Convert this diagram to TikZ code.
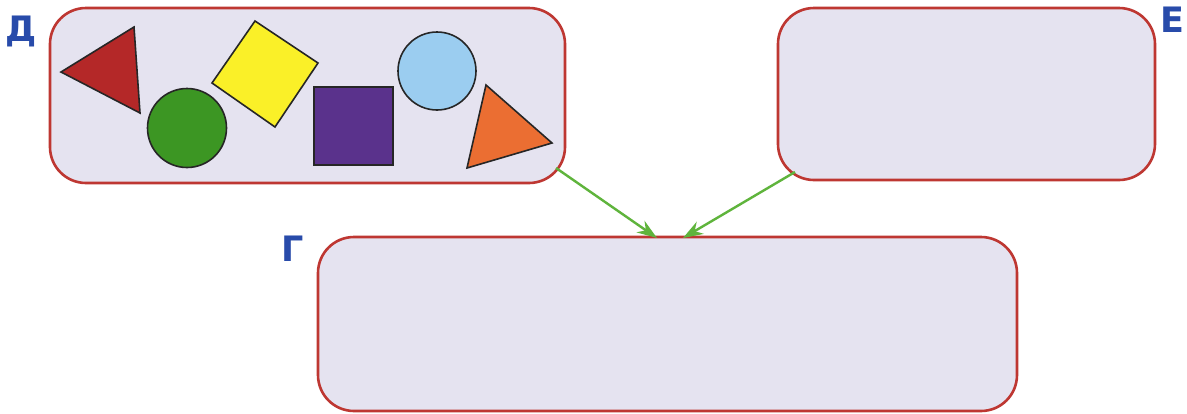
\documentclass[tikz,border=0pt]{standalone}
\usepackage{fontspec}
\newfontfamily\lblfont{DejaVu Sans}
\usetikzlibrary{arrows.meta}
\definecolor{boxfill}{RGB}{229,227,240}
\definecolor{boxline}{RGB}{190,55,50}
\definecolor{lblblue}{RGB}{40,75,170}
\definecolor{arrgreen}{RGB}{95,180,60}
\definecolor{shred}{RGB}{180,40,40}
\definecolor{shgreen}{RGB}{60,150,35}
\definecolor{shyellow}{RGB}{250,240,40}
\definecolor{shpurple}{RGB}{90,50,140}
\definecolor{shblue}{RGB}{155,205,240}
\definecolor{shorange}{RGB}{235,110,50}
\begin{document}
\begin{tikzpicture}[x=1pt,y=-1pt,
  panel/.style={draw=boxline, line width=2.6pt, fill=boxfill, rounded corners=36pt, inner sep=0pt},
  letter/.style={text=lblblue, font=\lblfont\bfseries\fontsize{35}{35}\selectfont, inner sep=0pt},
  figure/.style={draw=black!85, line width=1.6pt},
  link/.style={draw=arrgreen, line width=2.4pt, -{Stealth[length=20pt,width=14pt]}}]
\useasboundingbox[fill=white] (0,0) rectangle (1187,413);
% panels
\node[panel, minimum width=515pt, minimum height=175pt] (D) at (307.5,95.5) {};
\node[panel, minimum width=377pt, minimum height=172pt] (E) at (966.5,94) {};
\node[panel, minimum width=699pt, minimum height=174pt] (G) at (667.5,324) {};
% labels
\node[letter] (lD) at (21,31) {Д};
\node[letter] (lE) at (1172,20) {Е};
\node[letter] (lG) at (293,249) {Г};
% shapes in D
\filldraw[figure, fill=shred] (61,72) -- (134,27) -- (140,113) -- cycle;
\filldraw[figure, fill=shgreen] (187,128) circle (39.5pt);
\filldraw[figure, fill=shyellow] (255,21) -- (318,63) -- (275,127) -- (212,83) -- cycle;
\filldraw[figure, fill=shpurple] (314,87) rectangle (393,165);
\filldraw[figure, fill=shblue] (437,71) circle (39pt);
\filldraw[figure, fill=shorange] (486,85) -- (552,143) -- (467,168) -- cycle;
% connectors
\coordinate (d1) at (556,168);
\coordinate (g1) at (657,238);
\coordinate (e1) at (795,172);
\coordinate (g2) at (683,238);
\draw[link] (d1) -- (g1);
\draw[link] (e1) -- (g2);
\end{tikzpicture}
\end{document}
